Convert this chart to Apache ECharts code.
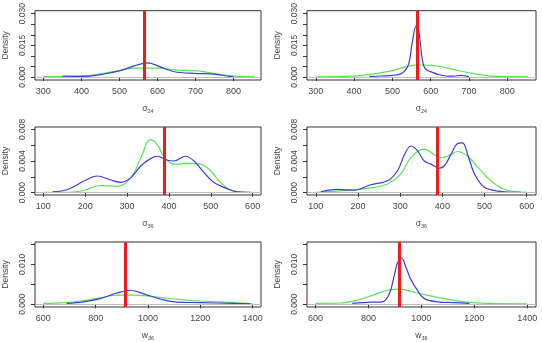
<!DOCTYPE html>
<html>
<head>
<meta charset="utf-8">
<script src="https://cdn.jsdelivr.net/npm/echarts@6/dist/echarts.min.js"></script>
<style>
  html, body { margin: 0; padding: 0; background: #fff; }
  #chart { width: 542px; height: 342px; }
</style>
</head>
<body>
<div id="chart"></div>
<script>
// density curves: [value, density]
var s24aBlue = [[350, 0.0004], [400, 0.0003], [452, 0.0012], [502, 0.003], [539, 0.0053], [574, 0.0067], [609, 0.0047], [644, 0.0025], [696, 0.0017], [748, 0.0014], [783, 0.0005], [800, 0.0001]]
var s24aGreen = [[300, 0.0002], [400, 0.0005], [450, 0.0015], [502, 0.0032], [540, 0.0042], [600, 0.0042], [650, 0.0033], [700, 0.003], [740, 0.002], [780, 0.0008], [855, 0.0001]]
var s24bBlue = [[440, 0.0002], [470, 0.0005], [500, 0.0008], [520, 0.0014], [532, 0.0028], [543, 0.0065], [552, 0.0165], [562, 0.0242], [570, 0.0205], [576, 0.011], [582, 0.0052], [590, 0.0033], [603, 0.0023], [620, 0.0012], [640, 0.0005], [660, 0.0004], [680, 0.0008], [700, 0.0001]]
var s24bGreen = [[300, 0.0001], [380, 0.0003], [444, 0.0013], [500, 0.003], [531, 0.0047], [566, 0.0058], [600, 0.0055], [627, 0.005], [671, 0.0031], [723, 0.0013], [758, 0.0004], [854, 0.0001]]
var s36aBlue = [[122, 0.0001], [158, 0.0004], [198, 0.0015], [229, 0.0021], [261, 0.0016], [285, 0.0013], [309, 0.0019], [333, 0.0034], [356, 0.0043], [372, 0.0046], [396, 0.0041], [412, 0.004], [440, 0.0046], [460, 0.004], [483, 0.0026], [507, 0.0013], [539, 0.0005], [563, 0.0001], [594, 0.00004]]
var s36aGreen = [[100, 0.00004], [158, 0.00004], [198, 0.0003], [237, 0.0009], [277, 0.0008], [309, 0.0019], [333, 0.0044], [356, 0.0067], [372, 0.0061], [388, 0.0046], [412, 0.0036], [443, 0.0037], [475, 0.0036], [499, 0.0028], [523, 0.0013], [555, 0.0002], [600, 0.00004]]
var s36bBlue = [[112, 0.0001], [151, 0.0004], [191, 0.0003], [230, 0.001], [270, 0.0015], [294, 0.0028], [310, 0.0048], [325, 0.0059], [341, 0.0053], [357, 0.004], [373, 0.0036], [393, 0.0031], [405, 0.0034], [420, 0.0048], [436, 0.0062], [448, 0.0063], [460, 0.0048], [476, 0.0024], [499, 0.0007], [531, 0.0002], [586, 0.00004]]
var s36bGreen = [[100, 0.00004], [151, 0.0002], [199, 0.0004], [230, 0.0006], [270, 0.0011], [302, 0.0024], [325, 0.0044], [357, 0.0055], [381, 0.0048], [397, 0.0044], [420, 0.0048], [436, 0.0052], [460, 0.0046], [484, 0.0032], [515, 0.0015], [547, 0.0004], [600, 0.00004]]
var w36aBlue = [[689, 0.0002], [753, 0.0006], [817, 0.0014], [881, 0.0028], [932, 0.0035], [983, 0.0026], [1047, 0.0013], [1110, 0.0005], [1200, 0.0004], [1327, 0.0002], [1391, 0.0001]]
var w36aGreen = [[600, 0.0002], [689, 0.0004], [753, 0.0009], [817, 0.0016], [881, 0.0023], [945, 0.0023], [1009, 0.002], [1072, 0.0015], [1136, 0.0011], [1200, 0.0008], [1327, 0.0004], [1400, 0.0001]]
var w36bBlue = [[739, 0.0002], [809, 0.0005], [853, 0.0006], [879, 0.0026], [898, 0.0073], [910, 0.0104], [925, 0.0116], [942, 0.0092], [961, 0.0061], [986, 0.0034], [1011, 0.0014], [1062, 0.0006], [1125, 0.0004], [1182, 0.0002]]
var w36bGreen = [[600, 0.0002], [695, 0.0003], [758, 0.001], [822, 0.0024], [872, 0.0035], [916, 0.0038], [961, 0.0032], [1011, 0.0024], [1087, 0.0014], [1163, 0.0006], [1252, 0.0002], [1400, 0.0001]]

// red reference value per panel
var trueValues = [564, 566, 388, 387, 914, 916]

// axis ticks / labels
var xTicks24 = [300, 400, 500, 600, 700, 800]
var xTicks36 = [100, 200, 300, 400, 500, 600]
var xTicksW = [600, 800, 1000, 1200, 1400]
var yTicks24 = [0, 0.005, 0.01, 0.015, 0.02, 0.025, 0.03]
var yLabels24 = [0, 0.015, 0.03]
var yTicks36 = [0, 0.002, 0.004, 0.006, 0.008]
var yLabels36 = [0, 0.004, 0.008]
var yTicksW = [0, 0.005, 0.01, 0.015]
var yLabelsW = [0, 0.01]

var axisNames = ['σ{s|24}', 'σ{s|24}', 'σ{s|36}', 'σ{s|36}', 'w{s|36}', 'w{s|36}']

var panels = [
  { blue: s24aBlue, green: s24aGreen, xMin: 278, xMax: 872, xt: xTicks24, yMin: -0.0014, yMax: 0.0314, yt: yTicks24, yl: yLabels24 },
  { blue: s24bBlue, green: s24bGreen, xMin: 277, xMax: 875, xt: xTicks24, yMin: -0.0014, yMax: 0.0314, yt: yTicks24, yl: yLabels24 },
  { blue: s36aBlue, green: s36aGreen, xMin: 80, xMax: 620, xt: xTicks36, yMin: -0.0003, yMax: 0.0083, yt: yTicks36, yl: yLabels36 },
  { blue: s36bBlue, green: s36bGreen, xMin: 79, xMax: 622, xt: xTicks36, yMin: -0.0003, yMax: 0.0083, yt: yTicks36, yl: yLabels36 },
  { blue: w36aBlue, green: w36aGreen, xMin: 568, xMax: 1432, xt: xTicksW, yMin: -0.0007, yMax: 0.0156, yt: yTicksW, yl: yLabelsW },
  { blue: w36bBlue, green: w36bGreen, xMin: 568, xMax: 1433, xt: xTicksW, yMin: -0.0007, yMax: 0.0156, yt: yTicksW, yl: yLabelsW }
]

var lefts = [34, 307]
var widths = [227, 229]
var tops = [9, 127, 242]
var heights = [71, 68, 70]

var labelColor = '#444'
var grid = []
var xAxis = []
var yAxis = []
var series = []

panels.forEach(function(p, i) {
  var col = i % 2
  var row = Math.floor(i / 2)
  grid.push({
    left: lefts[col],
    top: tops[row],
    width: widths[col],
    height: heights[row],
    show: true,
    borderColor: '#333',
    borderWidth: 1,
    backgroundColor: '#fff'
  })
  xAxis.push({
    type: 'value',
    gridIndex: i,
    min: p.xMin,
    max: p.xMax,
    splitLine: { show: false },
    axisLine: { show: false },
    axisTick: { show: true, inside: false, length: 4, customValues: p.xt, lineStyle: { color: '#333' } },
    axisLabel: {
      customValues: p.xt,
      color: labelColor,
      fontSize: 9,
      margin: 7,
      fontFamily: 'Liberation Sans',
      formatter: function(v) { return String(v) }
    },
    name: axisNames[i],
    nameLocation: 'middle',
    nameGap: 23,
    nameTextStyle: {
      color: labelColor,
      fontSize: 8.5,
      fontFamily: 'Liberation Sans',
      rich: { s: { fontSize: 5.5, color: labelColor, padding: [5, 0, 0, 0], fontFamily: 'Liberation Sans' } }
    }
  })
  yAxis.push({
    type: 'value',
    gridIndex: i,
    min: p.yMin,
    max: p.yMax,
    splitLine: { show: false },
    axisLine: { show: false },
    axisTick: { show: true, inside: false, length: 4, customValues: p.yt, lineStyle: { color: '#333' } },
    axisLabel: {
      customValues: p.yl,
      rotate: 90,
      color: labelColor,
      fontSize: 8.5,
      margin: 8,
      fontFamily: 'Liberation Sans',
      formatter: function(v) { return v.toFixed(3) }
    },
    name: 'Density',
    nameLocation: 'middle',
    nameGap: 25,
    nameRotate: 90,
    nameTextStyle: { color: labelColor, fontSize: 8.5, fontFamily: 'Liberation Sans' }
  })
  series.push({
    type: 'line',
    xAxisIndex: i,
    yAxisIndex: i,
    data: p.green,
    smooth: 0.4,
    showSymbol: false,
    silent: true,
    lineStyle: { color: '#55e555', width: 1.2 },
    markLine: {
      silent: true,
      symbol: 'none',
      label: { show: false },
      lineStyle: { color: '#bdbdbd', width: 1, type: 'solid' },
      data: [{ yAxis: 0 }]
    },
    z: 2
  })
  series.push({
    type: 'line',
    xAxisIndex: i,
    yAxisIndex: i,
    data: p.blue,
    smooth: 0.35,
    showSymbol: false,
    silent: true,
    lineStyle: { color: '#3c3cdc', width: 1.2 },
    markLine: {
      silent: true,
      symbol: 'none',
      label: { show: false },
      lineStyle: { color: '#ee1c1c', width: 3, type: 'solid' },
      data: [{ xAxis: trueValues[i] }]
    },
    z: 3
  })
})

var chart = echarts.init(document.getElementById('chart'), null, { renderer: 'canvas' })
chart.setOption({
  animation: false,
  backgroundColor: '#fff',
  grid: grid,
  xAxis: xAxis,
  yAxis: yAxis,
  series: series
})
</script>
</body>
</html>
